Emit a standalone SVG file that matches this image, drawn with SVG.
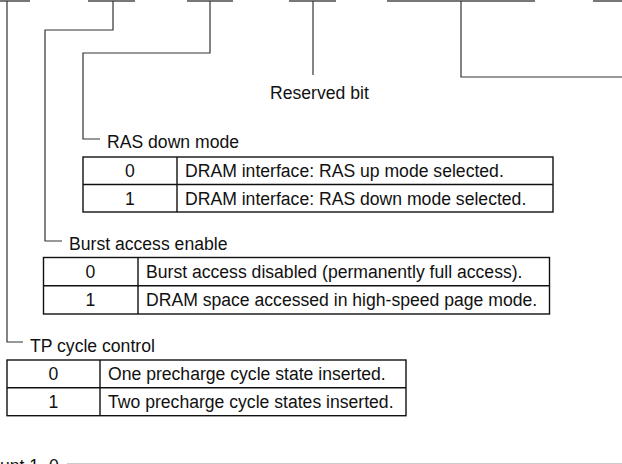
<svg xmlns="http://www.w3.org/2000/svg" width="622" height="464" viewBox="0 0 622 464">
<style>
text{font-family:"Liberation Sans",Arial,sans-serif;font-size:17.6px;fill:#111}
.c{text-anchor:middle}
.bit{stroke:#777;stroke-width:2;fill:none}
.ln{stroke:#333;stroke-width:1.2;fill:none}
.tb{stroke:#111;stroke-width:1.4;fill:none}
</style>
<rect width="622" height="464" fill="#fff"/>
<g id="bits">
<line class="bit" x1="0" y1="1" x2="30" y2="1"/>
<line class="bit" x1="88" y1="1" x2="135" y2="1"/>
<line class="bit" x1="187" y1="1" x2="233" y2="1"/>
<line class="bit" x1="289" y1="1" x2="336" y2="1"/>
<line class="bit" x1="387" y1="1" x2="535" y2="1"/>
<line class="bit" x1="593" y1="1" x2="622" y2="1"/>
</g>
<g id="connectors">
<polyline class="ln" points="7,1 7,342 23,342"/>
<polyline class="ln" points="113,1 113,30 45,30 45,241 62,241"/>
<polyline class="ln" points="210,1 210,53 83,53 83,139 100,139"/>
<polyline class="ln" points="313,1 313,75"/>
<polyline class="ln" points="461,1 461,77 622,77"/>
</g>
<g id="reserved">
<text x="270" y="99">Reserved bit</text>
</g>
<g id="ras">
<text x="107" y="148">RAS down mode</text>
<rect class="tb" x="83" y="157" width="470" height="55"/>
<line class="tb" x1="83" y1="184.5" x2="553" y2="184.5"/>
<line class="tb" x1="177" y1="157" x2="177" y2="212"/>
<text class="c" x="130" y="177">0</text>
<text x="185" y="177">DRAM interface: RAS up mode selected.</text>
<text class="c" x="130" y="204.5">1</text>
<text x="185" y="204.5">DRAM interface: RAS down mode selected.</text>
</g>
<g id="burst">
<text x="69" y="250">Burst access enable</text>
<rect class="tb" x="43.5" y="257.5" width="506" height="56.5"/>
<line class="tb" x1="43.5" y1="285.7" x2="549.5" y2="285.7"/>
<line class="tb" x1="138" y1="257.5" x2="138" y2="314"/>
<text class="c" x="90.5" y="278">0</text>
<text x="146" y="278">Burst access disabled (permanently full access).</text>
<text class="c" x="90.5" y="306">1</text>
<text x="146" y="306">DRAM space accessed in high-speed page mode.</text>
</g>
<g id="tp">
<text x="30" y="352">TP cycle control</text>
<rect class="tb" x="7" y="360" width="399" height="55.7"/>
<line class="tb" x1="7" y1="387.7" x2="406" y2="387.7"/>
<line class="tb" x1="100" y1="360" x2="100" y2="415.7"/>
<text class="c" x="53.5" y="380">0</text>
<text x="108" y="380">One precharge cycle state inserted.</text>
<text class="c" x="53.5" y="408">1</text>
<text x="108" y="408">Two precharge cycle states inserted.</text>
</g>
<g id="bottom">
<text x="0" y="471.6">unt 1, 0</text>
<line x1="67" y1="463.5" x2="622" y2="463.5" stroke="#ccc" stroke-width="1"/>
</g>
</svg>
